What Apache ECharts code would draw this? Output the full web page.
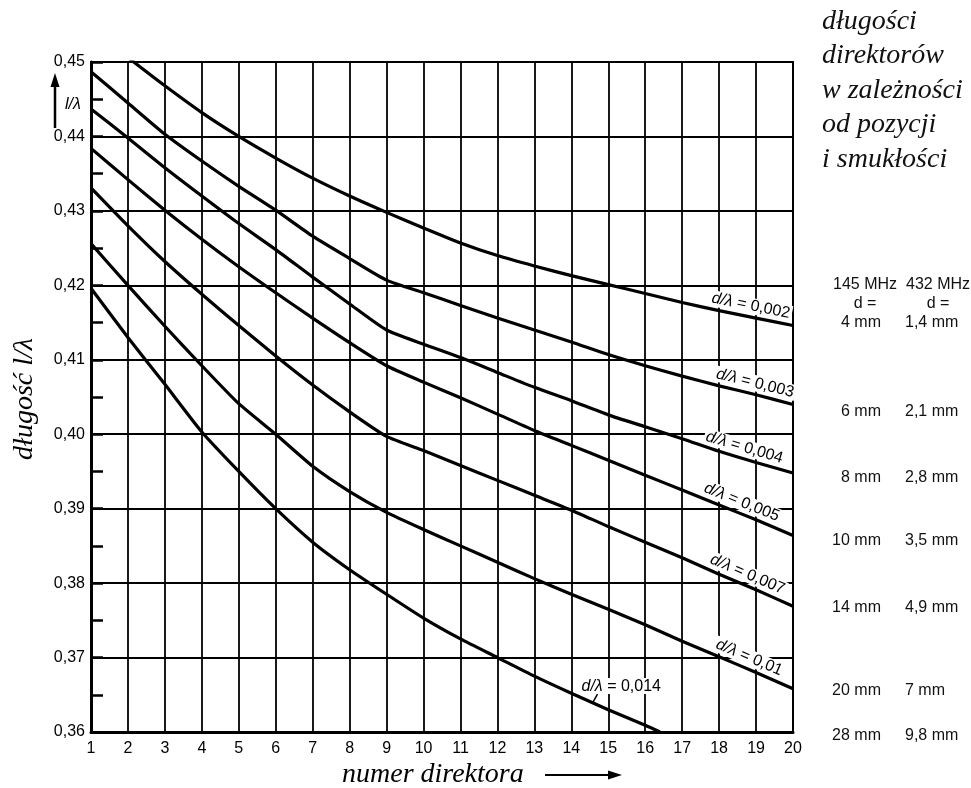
<!DOCTYPE html>
<html>
<head>
<meta charset="utf-8">
<script src="https://cdn.jsdelivr.net/npm/echarts@6.0.0/dist/echarts.min.js"></script>
<style>
  html, body { margin: 0; padding: 0; background: #fff; }
  #chart { width: 971px; height: 788px; }
</style>
</head>
<body>
<div id="chart"></div>
<script>
// Director number along the boom (x axis)
const directorNumbers = [1, 2, 3, 4, 5, 6, 7, 8, 9, 10, 11, 12, 13, 14, 15, 16, 17, 18, 19, 20];
// Y tick labels (relative length l/λ)
const yTickLabels = ['0,36', '0,37', '0,38', '0,39', '0,40', '0,41', '0,42', '0,43', '0,44', '0,45'];

// Relative director length l/λ for each slenderness d/λ, per director number
const len002 = [null, 0.4506, 0.4468, 0.4432, 0.4400, 0.4371, 0.4344, 0.4320, 0.4298, 0.4277, 0.4257, 0.4240, 0.4226, 0.4213, 0.4201, 0.4189, 0.4177, 0.4166, 0.4156, 0.4146];
const len003 = [0.4487, 0.4445, 0.4403, 0.4367, 0.4333, 0.4301, 0.4266, 0.4236, 0.4207, 0.4190, 0.4173, 0.4156, 0.4140, 0.4124, 0.4107, 0.4092, 0.4078, 0.4065, 0.4053, 0.4040];
const len004 = [0.4437, 0.4398, 0.4358, 0.4320, 0.4283, 0.4248, 0.4211, 0.4175, 0.4140, 0.4121, 0.4103, 0.4083, 0.4063, 0.4045, 0.4026, 0.4010, 0.3994, 0.3977, 0.3962, 0.3948];
const len005 = [0.4384, 0.4342, 0.4301, 0.4262, 0.4225, 0.4190, 0.4156, 0.4123, 0.4092, 0.4070, 0.4049, 0.4027, 0.4005, 0.3985, 0.3965, 0.3945, 0.3925, 0.3905, 0.3885, 0.3864];
const len007 = [0.4331, 0.4280, 0.4232, 0.4188, 0.4146, 0.4105, 0.4066, 0.4030, 0.3997, 0.3978, 0.3958, 0.3938, 0.3918, 0.3898, 0.3876, 0.3855, 0.3834, 0.3812, 0.3791, 0.3769];
const len010 = [0.4256, 0.4200, 0.4145, 0.4092, 0.4041, 0.4000, 0.3957, 0.3923, 0.3895, 0.3872, 0.3850, 0.3828, 0.3806, 0.3785, 0.3765, 0.3744, 0.3722, 0.3701, 0.3680, 0.3658];
const len014 = [0.4196, 0.4130, 0.4067, 0.4003, 0.3950, 0.3900, 0.3855, 0.3818, 0.3785, 0.3753, 0.3725, 0.3700, 0.3675, 0.3652, 0.3630, 0.3609];
// where the d/λ = 0,014 curve runs into the 0,36 line
const end014 = [16.4, 0.3600];

// Curve names (d/λ)
const ratioNames = ['0,002', '0,003', '0,004', '0,005', '0,007', '0,01', '0,014'];

// Element diameters for 145 MHz and 432 MHz matching each d/λ
const diam145 = ['4 mm', '6 mm', '8 mm', '10 mm', '14 mm', '20 mm', '28 mm'];
const diam432 = ['1,4 mm', '2,1 mm', '2,8 mm', '3,5 mm', '4,9 mm', '7 mm', '9,8 mm'];
const bandHeaders = ['145 MHz', '432 MHz'];

const titleLines = ['długości', 'direktorów', 'w zależności', 'od pozycji', 'i smukłości'];

const SANS = '"Liberation Sans", Arial, sans-serif';
const SERIF = '"Liberation Serif", "DejaVu Serif", serif';

function toPairs(values) {
  const out = [];
  values.forEach((v, i) => { if (v !== null) out.push([directorNumbers[i], v]); });
  return out;
}

const curves = [len002, len003, len004, len005, len007, len010, len014].map(toPairs);
curves[6].push(end014);

const chart = echarts.init(document.getElementById('chart'), null, { renderer: 'canvas' });

const option = {
  animation: false,
  backgroundColor: '#fff',
  grid: { left: 91, top: 62, width: 702, height: 670, show: true, borderColor: '#000', borderWidth: 2 },
  xAxis: {
    type: 'value', min: 1, max: 20, interval: 1,
    axisLine: { show: true, onZero: false, lineStyle: { color: '#000', width: 3 } },
    axisTick: { show: false },
    axisLabel: { color: '#000', fontFamily: SANS, fontSize: 16, margin: 9 },
    splitLine: { show: true, lineStyle: { color: '#000', width: 1.8 } }
  },
  yAxis: {
    type: 'value', min: 0.36, max: 0.45, interval: 0.01,
    axisLine: { show: true, onZero: false, lineStyle: { color: '#000', width: 3 } },
    axisTick: { show: true, inside: true, length: 12, lineStyle: { color: '#000', width: 2.5 } },
    minorTick: { show: true, splitNumber: 2, length: 12, lineStyle: { color: '#000', width: 2.5 } },
    axisLabel: {
      color: '#000', fontFamily: SANS, fontSize: 16, margin: 6,
      formatter: v => yTickLabels[Math.round((v - 0.36) / 0.01)]
    },
    splitLine: { show: true, lineStyle: { color: '#000', width: 1.8 } }
  },
  series: curves.map((data, i) => ({
    type: 'line',
    name: 'd/λ = ' + ratioNames[i],
    data: data,
    symbol: 'none',
    smooth: 0.2,
    clip: true,
    lineStyle: { color: '#000', width: 3.2 },
    z: 3
  }))
};

chart.setOption(option);

// Linear lookup along a curve, used only to seat the curve labels
function curveValue(data, n) {
  for (let i = 0; i < data.length - 1; i++) {
    const a = data[i], b = data[i + 1];
    if (n >= a[0] && n <= b[0]) {
      const t = (n - a[0]) / (b[0] - a[0]);
      return a[1] + t * (b[1] - a[1]);
    }
  }
  return data[data.length - 1][1];
}

const labelRich = {
  i: { fontStyle: 'italic', fontFamily: SANS, fontSize: 16, fill: '#000' },
  n: { fontFamily: SANS, fontSize: 16, fill: '#000' }
};

// Label positions along each sloped curve (director number of the label centre)
const slopedLabelAt = [18.8, 18.9, 18.6, 18.5, 18.65, 18.7];
const graphics = [];

slopedLabelAt.forEach((n, i) => {
  const data = curves[i];
  const p = chart.convertToPixel({ gridIndex: 0 }, [n, curveValue(data, n)]);
  const p1 = chart.convertToPixel({ gridIndex: 0 }, [n - 0.6, curveValue(data, n - 0.6)]);
  const p2 = chart.convertToPixel({ gridIndex: 0 }, [Math.min(n + 0.6, 20), curveValue(data, Math.min(n + 0.6, 20))]);
  const ang = Math.atan2(p2[1] - p1[1], p2[0] - p1[0]);
  const off = 11;
  graphics.push({
    type: 'text',
    x: p[0] + Math.sin(ang) * off,
    y: p[1] - Math.cos(ang) * off,
    rotation: -ang,
    z: 10,
    style: {
      text: '{i|d/λ}{n| = ' + ratioNames[i] + '}',
      rich: labelRich,
      align: 'center', verticalAlign: 'middle',
      backgroundColor: '#fff', padding: [0, 2]
    }
  });
});

// Horizontal label for d/λ = 0,014 with its short leader
{
  const n = 14.6;
  const p = chart.convertToPixel({ gridIndex: 0 }, [n, curveValue(curves[6], n)]);
  graphics.push({
    type: 'text', x: p[0] - 13, y: p[1] - 17, z: 10,
    style: {
      text: '{i|d/λ}{n| = ' + ratioNames[6] + '}', rich: labelRich,
      align: 'left', verticalAlign: 'middle', backgroundColor: '#fff', padding: [0, 1]
    }
  });
  graphics.push({
    type: 'line', z: 11,
    shape: { x1: p[0] + 4, y1: p[1] - 9, x2: p[0] - 1, y2: p[1] },
    style: { stroke: '#000', lineWidth: 1.5 }
  });
}

// Axis titles
graphics.push({
  type: 'text', x: 25, y: 399, rotation: Math.PI / 2, z: 10,
  style: { text: 'długość l/λ', fontFamily: SERIF, fontStyle: 'italic', fontSize: 28, fill: '#000', align: 'center', verticalAlign: 'middle' }
});
graphics.push({
  type: 'text', x: 342, y: 775, z: 10,
  style: { text: 'numer direktora', fontFamily: SERIF, fontStyle: 'italic', fontSize: 28, fill: '#000', align: 'left', verticalAlign: 'middle' }
});
// arrow after the x title
graphics.push({ type: 'line', shape: { x1: 545, y1: 775, x2: 612, y2: 775 }, style: { stroke: '#000', lineWidth: 2 } });
graphics.push({ type: 'polygon', shape: { points: [[622, 775], [608, 770.5], [608, 779.5]] }, style: { fill: '#000' } });

// arrow and l/λ marker beside the y axis
graphics.push({ type: 'line', shape: { x1: 55, y1: 128, x2: 55, y2: 84 }, style: { stroke: '#000', lineWidth: 2.5 } });
graphics.push({ type: 'polygon', shape: { points: [[55, 73], [50.5, 87], [59.5, 87]] }, style: { fill: '#000' } });
graphics.push({
  type: 'text', x: 73, y: 105, z: 10,
  style: { text: 'l/λ', fontFamily: SANS, fontStyle: 'italic', fontSize: 16, fill: '#000', align: 'center', verticalAlign: 'middle' }
});

// Title block at top right
graphics.push({
  type: 'text', x: 822, y: 4, z: 10,
  style: { text: titleLines.join('\n'), fontFamily: SERIF, fontStyle: 'italic', fontSize: 28, lineHeight: 34.5, fill: '#111', align: 'left', verticalAlign: 'top' }
});

// Diameter table on the right
const tableFont = { fontFamily: SANS, fontSize: 16, fill: '#111' };
const colCentre = [865, 938];
bandHeaders.forEach((h, c) => {
  graphics.push({ type: 'text', x: colCentre[c], y: 285, style: Object.assign({ text: h, align: 'center', verticalAlign: 'middle' }, tableFont) });
  graphics.push({ type: 'text', x: colCentre[c], y: 304, style: Object.assign({ text: 'd =', align: 'center', verticalAlign: 'middle' }, tableFont) });
});
const rowY = [323, 412, 478, 541, 608, 691, 736];
diam145.forEach((t, r) => {
  graphics.push({ type: 'text', x: 881, y: rowY[r], style: Object.assign({ text: t, align: 'right', verticalAlign: 'middle' }, tableFont) });
  graphics.push({ type: 'text', x: 905, y: rowY[r], style: Object.assign({ text: diam432[r], align: 'left', verticalAlign: 'middle' }, tableFont) });
});

chart.setOption({ graphic: { elements: graphics } });
</script>
</body>
</html>
